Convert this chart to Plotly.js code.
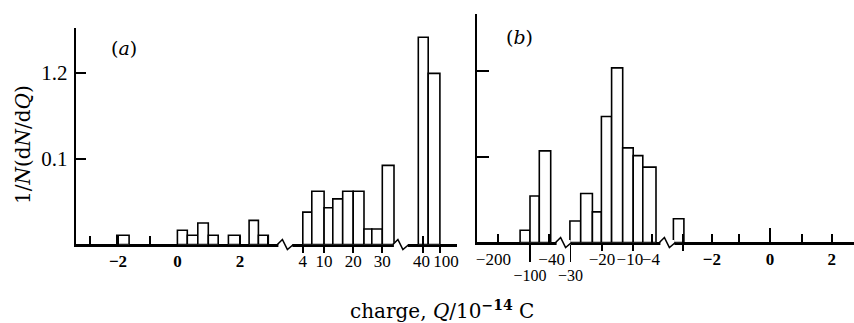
<!DOCTYPE html>
<html>
<head>
<meta charset="utf-8">
<script src="https://cdn.plot.ly/plotly-3.0.1.min.js"></script>
<style>html,body{margin:0;padding:0;background:#fff;}#chart{width:854px;height:323px;}</style>
</head>
<body>
<div id="chart"></div>
<script>
// ---------- Panel (a): positive charges, broken axis (positions on the broken axis) ----------
const aBinFrom = [-2.04, -0.02, 0.31, 0.66, 1.01, 1.68, 2.37, 2.68, 4.16, 4.46, 4.87, 5.16, 5.49, 5.84, 6.20, 6.46, 6.81, 8.01, 8.34];
const aBinTo   = [-1.63, 0.31, 0.66, 1.01, 1.34, 2.07, 2.68, 3.01, 4.46, 4.87, 5.16, 5.49, 5.84, 6.20, 6.46, 6.81, 7.20, 8.34, 8.73];
const aHeight  = [0.0108, 0.0166, 0.0108, 0.025, 0.0108, 0.0108, 0.028, 0.0108, 0.0376, 0.062, 0.0427, 0.053, 0.062, 0.062, 0.018, 0.018, 0.092, 0.241, 0.199];
const aLabelPos  = [-2.0, -0.02, 2.07, 4.16, 4.87, 5.84, 6.81, 8.12, 8.93];
const aLabelText = ['<b>−2</b>', '<b>0</b>', '<b>2</b>', '4', '10', '20', '30', '40', '100'];
const aUpTicks   = [-2.93, -2.0, -0.93, -0.02, 1.01, 2.07, 3.01, 8.16];
const aDownTicks = [4.16, 4.87, 5.84, 6.81, 8.16, 8.73];
const aBreaks    = [3.58, 7.43];
const aYTickVals = [0.1, 0.2];
const aYTickText = ['0.1', '1.2'];

// ---------- Panel (b): negative charges ----------
const bBinFrom = [-8.33, -8.00, -7.69, -6.67, -6.31, -5.92, -5.62, -5.28, -4.91, -4.56, -4.24, -3.22];
const bBinTo   = [-8.00, -7.69, -7.31, -6.31, -5.92, -5.62, -5.28, -4.91, -4.56, -4.24, -3.80, -2.87];
const bHeight  = [0.0143, 0.054, 0.1065, 0.025, 0.057, 0.0356, 0.1465, 0.203, 0.11, 0.101, 0.0877, 0.0276];
const bLabelPos  = [-9.22, -7.28, -5.60, -4.67, -3.97, -1.94, 0, 2.06];
const bLabelText = ['−200', '−40', '−20', '−10', '−4', '<b>−2</b>', '<b>0</b>', '<b>2</b>'];
const bLabel2Pos  = [-8.0, -6.65];
const bLabel2Text = ['−100', '−30'];
const bUpTicks   = [-9.07, -7.36, -3.94, -2.9, -1.94, -1.03, 1.06, 2.06];
const bTallTicks = [0];
const bDownTicks = [-5.6, -4.56, -2.9];
const bBreaks    = [-6.88, -3.42];
const bYTickVals = [0.1, 0.2];

const W = 854, H = 323;
const aRange = [(75.7 - 178) / 30, (457 - 178) / 30];
const bRange = [(476.7 - 770) / 30, (854 - 770) / 30];
const aYRange = [0, (244.5 - 28) / 860];
const bYRange = [0, (242.5 - 14) / 860];
const aBase = (H - 244.5) / H;
const bBase = (H - 242.5) / H;

const serif = 'Liberation Serif, Times New Roman, serif';
const dserif = 'DejaVu Serif, serif';

function barTrace(from, to, h, xa, ya) {
  return {
    type: 'bar',
    x: from.map((f, i) => (f + to[i]) / 2),
    width: from.map((f, i) => to[i] - f),
    y: h,
    xaxis: xa, yaxis: ya,
    marker: {color: 'white', line: {color: 'black', width: 1.6}},
    hoverinfo: 'skip', showlegend: false
  };
}

// invisible helper trace so that an overlay axis gets its own subplot
function holder(xa, ya, range) {
  return {type: 'scatter', mode: 'markers', x: [range[0]], y: [0], xaxis: xa, yaxis: ya,
    marker: {opacity: 0, size: 1}, hoverinfo: 'skip', showlegend: false, cliponaxis: true};
}

function overlay(base, anchor, range, vals, dir, len, text, fsize) {
  return {
    overlaying: base, anchor: anchor, range: range,
    tickmode: 'array', tickvals: vals, ticktext: text || vals.map(() => ''),
    showticklabels: !!text, ticks: dir, ticklen: len, tickwidth: 1.6, tickcolor: 'black',
    tickangle: 0, tickfont: {family: serif, size: fsize || 17, color: 'black'}, ticklabelstandoff: 0,
    showline: true, linecolor: 'black', linewidth: 2,
    showgrid: false, zeroline: false, fixedrange: true
  };
}

function breakShapes(breaks, xref, base) {
  const s = [];
  breaks.forEach(p => {
    s.push({type: 'rect', xref: xref, yref: 'paper', xsizemode: 'pixel', ysizemode: 'pixel',
      xanchor: p, yanchor: base, x0: -7, x1: 7, y0: -2.5, y1: 2.5,
      fillcolor: 'white', line: {width: 0}, layer: 'above'});
    s.push({type: 'path', xref: xref, yref: 'paper', xsizemode: 'pixel', ysizemode: 'pixel',
      xanchor: p, yanchor: base, path: 'M-8,0 L-3,5 L2,-5 L8,0',
      line: {color: 'black', width: 1.6}, layer: 'above'});
  });
  return s;
}

const data = [
  barTrace(aBinFrom, aBinTo, aHeight, 'x', 'y'),
  barTrace(bBinFrom, bBinTo, bHeight, 'x2', 'y2'),
  holder('x3', 'y', aRange), holder('x5', 'y', aRange),
  holder('x4', 'y2', bRange), holder('x6', 'y2', bRange),
  holder('x7', 'y2', bRange), holder('x8', 'y2', bRange)
];

const layout = {
  width: W, height: H,
  margin: {l: 0, r: 0, t: 0, b: 0},
  paper_bgcolor: 'white', plot_bgcolor: 'rgba(0,0,0,0)',
  showlegend: false,
  xaxis: {
    domain: [75.7 / W, 457 / W], range: aRange, anchor: 'y',
    tickmode: 'array', tickvals: aLabelPos, ticktext: aLabelText, ticks: '', tickangle: 0,
    ticklabelstandoff: 0,
    tickfont: {family: serif, size: 17, color: 'black'},
    showline: true, linecolor: 'black', linewidth: 2,
    showgrid: false, zeroline: false, fixedrange: true
  },
  xaxis3: overlay('x', 'y', aRange, aUpTicks, 'inside', 9),
  xaxis5: overlay('x', 'y', aRange, aDownTicks, 'outside', 6),
  yaxis: {
    domain: [aBase, (H - 28) / H], range: aYRange, anchor: 'x',
    tickmode: 'array', tickvals: aYTickVals, ticktext: aYTickText,
    ticks: 'inside', ticklen: 10, tickwidth: 2, tickcolor: 'black',
    tickfont: {family: serif, size: 21, color: 'black'}, ticklabelstandoff: 2,
    showline: true, linecolor: 'black', linewidth: 2,
    showgrid: false, zeroline: true, zerolinecolor: 'black', zerolinewidth: 2, fixedrange: true
  },
  xaxis2: {
    domain: [476.7 / W, 1], range: bRange, anchor: 'y2',
    tickmode: 'array', tickvals: bLabelPos, ticktext: bLabelText, ticks: '', tickangle: 0,
    ticklabelstandoff: 0,
    tickfont: {family: serif, size: 17, color: 'black'},
    showline: true, linecolor: 'black', linewidth: 2,
    showgrid: false, zeroline: false, fixedrange: true
  },
  xaxis4: overlay('x2', 'y2', bRange, bUpTicks, 'inside', 9),
  xaxis6: overlay('x2', 'y2', bRange, bLabel2Pos, 'outside', 17, bLabel2Text, 16),
  xaxis7: overlay('x2', 'y2', bRange, bDownTicks, 'outside', 6),
  xaxis8: overlay('x2', 'y2', bRange, bTallTicks, 'inside', 15),
  yaxis2: {
    domain: [bBase, (H - 14) / H], range: bYRange, anchor: 'x2',
    tickmode: 'array', tickvals: bYTickVals, showticklabels: false,
    ticks: 'inside', ticklen: 12, tickwidth: 2, tickcolor: 'black',
    showline: true, linecolor: 'black', linewidth: 2,
    showgrid: false, zeroline: true, zerolinecolor: 'black', zerolinewidth: 2, fixedrange: true
  },
  shapes: breakShapes(aBreaks, 'x', aBase).concat(breakShapes(bBreaks, 'x2', bBase)),
  annotations: [
    {text: 'charge, <i>Q</i>/10<sup><b>−14</b></sup> C', xref: 'paper', yref: 'paper',
     x: 442 / W, y: 1 - 310 / H, xanchor: 'center', yanchor: 'middle', showarrow: false,
     font: {family: dserif, size: 20, color: 'black'}},
    {text: '1/<i>N</i>(d<i>N</i>/d<i>Q</i>)', xref: 'paper', yref: 'paper',
     x: 23 / W, y: 1 - 145 / H, xanchor: 'center', yanchor: 'middle', textangle: -90, showarrow: false,
     font: {family: dserif, size: 20, color: 'black'}},
    {text: '(<i>a</i>)', xref: 'paper', yref: 'paper',
     x: 123.5 / W, y: 1 - 48 / H, xanchor: 'center', yanchor: 'middle', showarrow: false,
     font: {family: dserif, size: 19, color: 'black'}},
    {text: '(<i>b</i>)', xref: 'paper', yref: 'paper',
     x: 519 / W, y: 1 - 36.7 / H, xanchor: 'center', yanchor: 'middle', showarrow: false,
     font: {family: dserif, size: 19, color: 'black'}}
  ]
};

Plotly.newPlot('chart', data, layout, {staticPlot: true, displayModeBar: false});
</script>
</body>
</html>
